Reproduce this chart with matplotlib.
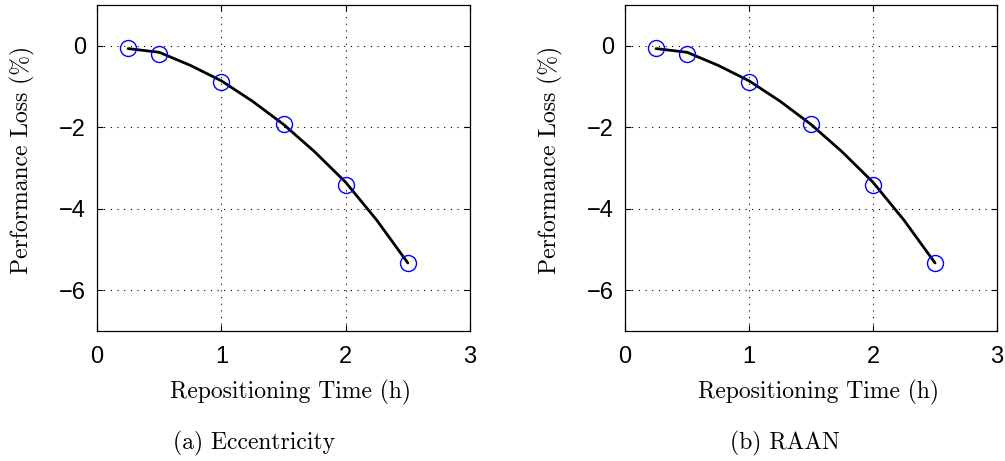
import matplotlib
matplotlib.use("Agg")
import matplotlib.pyplot as plt
from matplotlib.ticker import FixedLocator

# Data
time_pts = [0.25, 0.5, 1.0, 1.5, 2.0, 2.5]
loss_pts_ecc = [-0.06, -0.20, -0.88, -1.93, -3.42, -5.32]
loss_pts_raan = [-0.06, -0.20, -0.88, -1.93, -3.42, -5.32]

fit_time = [0.25, 0.5, 0.75, 1.0, 1.25, 1.5, 1.75, 2.0, 2.25, 2.5]
fit_loss_ecc = [-0.07, -0.16, -0.48, -0.86, -1.36, -1.93, -2.60, -3.35, -4.28, -5.33]
fit_loss_raan = [-0.07, -0.16, -0.48, -0.86, -1.36, -1.93, -2.60, -3.35, -4.28, -5.33]

xticks = [0, 1, 2, 3]
yticks = [0, -2, -4, -6]
xlabel = "Repositioning Time (h)"
ylabel = "Performance Loss (%)"
captions = ["(a) Eccentricity", "(b) RAAN"]

W, H = 1005, 461
fig = plt.figure(figsize=(W / 100, H / 100), dpi=100)

serif = ["cmr10", "DejaVu Serif"]
tickfont = "Liberation Sans"

panels = [
    (97, 470, loss_pts_ecc, fit_loss_ecc, captions[0], 254, 22),
    (625, 997, loss_pts_raan, fit_loss_raan, captions[1], 785, 550),
]

top_px, bot_px = 5, 331
for left, right, pts, fit, cap, capx, ylx in panels:
    ax = fig.add_axes([left / W, 1 - bot_px / H, (right - left) / W, (bot_px - top_px) / H])
    ax.plot(fit_time, fit, color="black", lw=2.0, zorder=3,
            solid_joinstyle="round", solid_capstyle="round")
    ax.plot(time_pts, pts, linestyle="none", marker="o", markersize=11.5,
            markerfacecolor="none", markeredgecolor="#0000ff", markeredgewidth=1.0, zorder=4)
    ax.set_xlim(0, 3)
    ax.set_ylim(-7, 1)
    ax.xaxis.set_major_locator(FixedLocator(xticks))
    ax.yaxis.set_major_locator(FixedLocator(yticks))
    ax.set_xticklabels([str(t) for t in xticks], fontname=tickfont, fontsize=17)
    ax.set_yticklabels([("\u2212" + str(-t)) if t < 0 else str(t) for t in yticks],
                       fontname=tickfont, fontsize=17)
    ax.tick_params(axis="x", direction="in", length=4, width=0.8, top=True, pad=11)
    ax.tick_params(axis="y", direction="in", length=4, width=0.8, right=True, pad=8)
    ax.grid(True, color="black", linestyle=(0, (1, 5)), linewidth=0.8)
    for s in ax.spines.values():
        s.set_linewidth(0.9)
    cx = (left + right) / 2 + 7
    fig.text(cx / W, 1 - 392 / H, xlabel, family=serif, fontsize=17,
             ha="center", va="center")
    fig.text(ylx / W, 1 - 160 / H, ylabel, family=serif, fontsize=17,
             ha="center", va="center", rotation=90)
    fig.text(capx / W, 1 - 443 / H, cap, family=serif, fontsize=17,
             ha="center", va="center")

fig.savefig("out.png", dpi=100)
